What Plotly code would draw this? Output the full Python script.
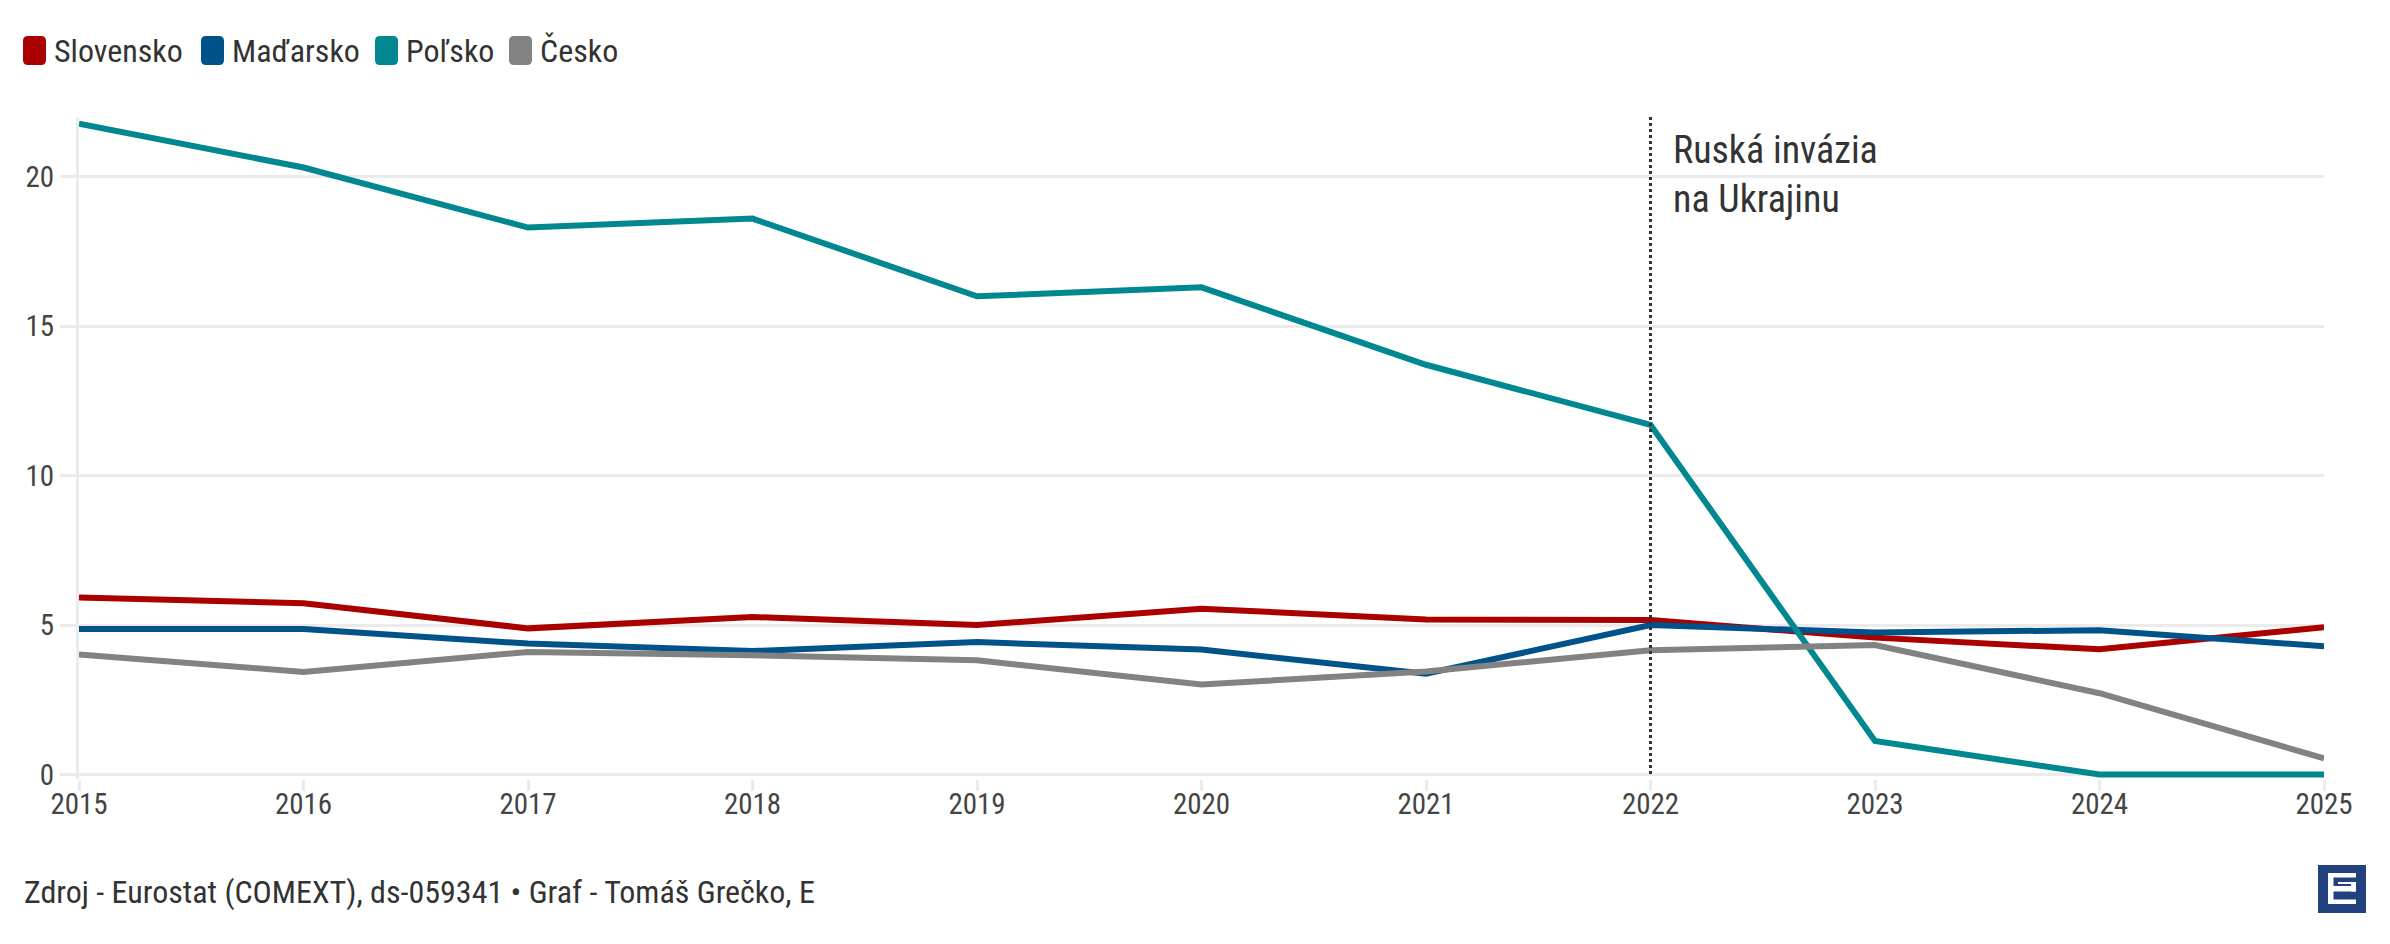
import plotly.graph_objects as go

years = [2015, 2016, 2017, 2018, 2019, 2020, 2021, 2022, 2023, 2024, 2025]
slovensko = [5.92, 5.73, 4.89, 5.27, 5.0, 5.55, 5.19, 5.17, 4.58, 4.19, 4.93]
madarsko = [4.87, 4.87, 4.38, 4.13, 4.43, 4.18, 3.37, 5.0, 4.75, 4.83, 4.29]
polsko = [21.78, 20.31, 18.3, 18.6, 16.0, 16.3, 13.71, 11.7, 1.12, 0.0, 0.0]
cesko = [4.02, 3.43, 4.1, 3.99, 3.82, 3.01, 3.45, 4.16, 4.33, 2.72, 0.54]

series_names = ["Slovensko", "Maďarsko", "Poľsko", "Česko"]
series_values = [slovensko, madarsko, polsko, cesko]
series_colors = ["#aa0000", "#00528a", "#00878f", "#828282"]

y_ticks = [0, 5, 10, 15, 20]
event_year = 2022
event_label = "Ruská invázia<br>na Ukrajinu"
source_text = "Zdroj - Eurostat (COMEXT), ds-059341 • Graf - Tomáš Grečko, E"

W, H = 2390, 944
L, R, T, B = 79, 66, 117, 165
plot_w = W - L - R
plot_h = H - T - B

FONT = "Roboto Condensed, Liberation Sans Narrow, DejaVu Sans Condensed, Roboto, sans-serif"
GRID = "#ebebeb"

fig = go.Figure()
for name, vals, col in zip(series_names, series_values, series_colors):
    fig.add_trace(go.Scatter(
        x=years, y=vals, mode="lines", name=name,
        line=dict(color=col, width=6), showlegend=False,
        hovertemplate="%{x}: %{y}<extra>" + name + "</extra>"))


def pxx(x):
    return (x - L) / plot_w


def pxy(y):
    return (H - B - y) / plot_h


def rounded_rect(x0, y0, x1, y1, r):
    X = pxx
    Y = pxy
    return (f"M {X(x0 + r)},{Y(y0)} L {X(x1 - r)},{Y(y0)} Q {X(x1)},{Y(y0)} {X(x1)},{Y(y0 + r)} "
            f"L {X(x1)},{Y(y1 - r)} Q {X(x1)},{Y(y1)} {X(x1 - r)},{Y(y1)} "
            f"L {X(x0 + r)},{Y(y1)} Q {X(x0)},{Y(y1)} {X(x0)},{Y(y1 - r)} "
            f"L {X(x0)},{Y(y0 + r)} Q {X(x0)},{Y(y0)} {X(x0 + r)},{Y(y0)} Z")


# legend (manual, rounded swatches)
legend_sq_x = [23, 201, 375, 509]
for name, col, sx in zip(series_names, series_colors, legend_sq_x):
    fig.add_shape(type="path", xref="paper", yref="paper",
                  path=rounded_rect(sx, 36, sx + 23, 65, 5),
                  fillcolor=col, line=dict(width=0))
    fig.add_annotation(x=pxx(sx + 29), y=pxy(51), xref="paper", yref="paper",
                       text=name, showarrow=False, xanchor="left", yanchor="middle",
                       font=dict(family=FONT, size=32, color="#333333"))

# event line
fig.add_shape(type="line", xref="x", yref="paper", x0=event_year, x1=event_year,
              y0=pxy(774), y1=1.0, line=dict(color="#333333", width=3, dash="dot"))
fig.add_annotation(x=event_year, y=1.0, xref="x", yref="paper", text=event_label,
                   showarrow=False, xanchor="left", yanchor="top", align="left",
                   xshift=20, yshift=-9,
                   font=dict(family=FONT, size=38, color="#333333"))

# source
fig.add_annotation(x=pxx(22), y=pxy(892), xref="paper", yref="paper",
                   text=source_text, showarrow=False, xanchor="left", yanchor="middle",
                   font=dict(family=FONT, size=32, color="#333333"))

# logo
logo_col = "#21417f"
fig.add_shape(type="rect", xref="paper", yref="paper",
              x0=pxx(2318), x1=pxx(2366), y0=pxy(913), y1=pxy(865),
              fillcolor=logo_col, line=dict(width=0), layer="above")
for (x0, y0, x1, y1) in [(2328, 873, 2333.5, 904), (2328, 873, 2356, 877.5),
                         (2328, 899.5, 2356, 904), (2333, 886, 2356, 891.5),
                         (2351, 882, 2356, 891.5), (2338, 882, 2356, 884)]:
    fig.add_shape(type="rect", xref="paper", yref="paper",
                  x0=pxx(x0), x1=pxx(x1), y0=pxy(y1), y1=pxy(y0),
                  fillcolor="white", line=dict(width=0), layer="above")

fig.update_layout(
    width=W, height=H,
    margin=dict(l=L, r=R, t=T, b=B),
    paper_bgcolor="white", plot_bgcolor="white",
    font=dict(family=FONT, size=28, color="#444444"),
    showlegend=False,
    hovermode="closest",
)
fig.update_xaxes(range=[2015, 2025], tickmode="array", tickvals=years,
                 ticktext=[str(y) for y in years],
                 showgrid=False, zeroline=False, showline=False,
                 ticks="outside", ticklen=11, tickwidth=3, tickcolor=GRID,
                 ticklabelstandoff=-12,
                 tickfont=dict(family=FONT, size=29, color="#444444"))
fig.update_yaxes(range=[-0.15, 22.0], tickmode="array", tickvals=y_ticks,
                 showgrid=True, gridcolor=GRID, gridwidth=3, zeroline=False,
                 showline=True, linecolor=GRID, linewidth=3,
                 ticks="outside", ticklen=16, tickwidth=3, tickcolor=GRID,
                 tickfont=dict(family=FONT, size=29, color="#444444"))

fig.write_html("out.html", config={"displayModeBar": False},
               post_script="document.body.style.margin='0';document.body.style.padding='0';")
